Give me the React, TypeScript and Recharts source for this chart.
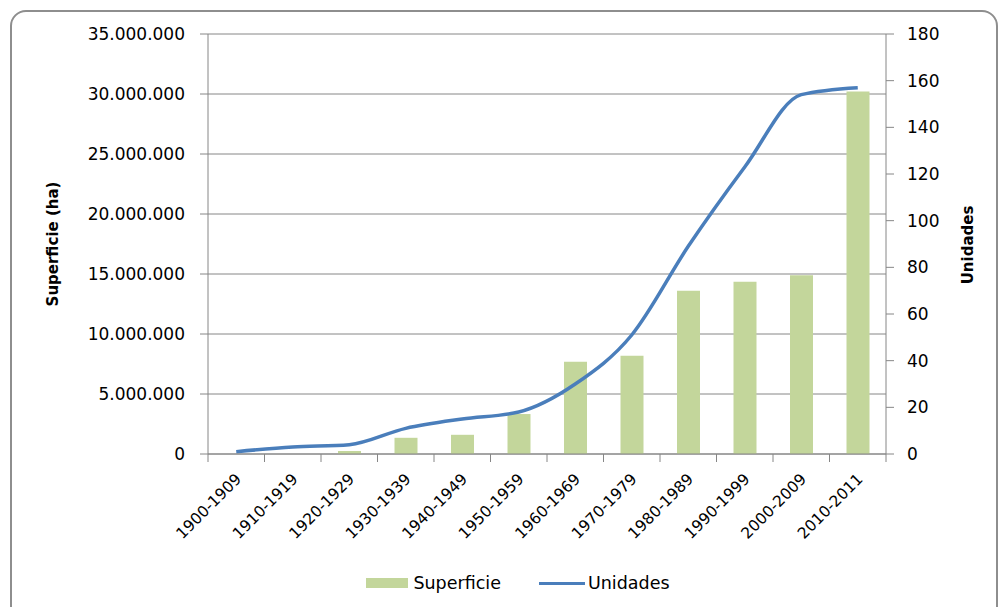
import React from "react";
import {
  Bar,
  CartesianGrid,
  ComposedChart,
  Legend,
  Line,
  XAxis,
  YAxis,
} from "recharts";

const periodos = [
  "1900-1909",
  "1910-1919",
  "1920-1929",
  "1930-1939",
  "1940-1949",
  "1950-1959",
  "1960-1969",
  "1970-1979",
  "1980-1989",
  "1990-1999",
  "2000-2009",
  "2010-2011",
];
const superficie = [
  0, 0, 250000, 1350000, 1600000, 3330000, 7690000, 8190000, 13600000,
  14360000, 14900000, 30200000,
];
const unidades = [1, 3, 4, 11, 15, 18, 30, 51, 89, 123, 154, 157];

const leftTicks = [0, 5000000, 10000000, 15000000, 20000000, 25000000, 30000000, 35000000];
const rightTicks = [0, 20, 40, 60, 80, 100, 120, 140, 160, 180];

const data = periodos.map((periodo, i) => ({
  periodo,
  superficie: superficie[i],
  unidades: unidades[i],
}));

const FONT = "'DejaVu Sans', sans-serif";
const GRAY = "#868686";
const PLOT_LEFT = 208;
const PLOT_RIGHT = 886;
const HALF_BAND = (PLOT_RIGHT - PLOT_LEFT) / periodos.length / 2;

const fmtMiles = (v: number) =>
  String(v).replace(/\B(?=(\d{3})+(?!\d))/g, ".");

function XTick(props: any) {
  const { x, y, payload, index } = props;
  const last = index === periodos.length - 1;
  return (
    <g>
      <line x1={x - HALF_BAND} x2={x - HALF_BAND} y1={y} y2={y + 8} stroke={GRAY} />
      {last && (
        <line x1={x + HALF_BAND} x2={x + HALF_BAND} y1={y} y2={y + 8} stroke={GRAY} />
      )}
      <text
        x={x + 6}
        y={y + 26}
        transform={`rotate(-45 ${x + 6} ${y + 26})`}
        textAnchor="end"
        fontFamily={FONT}
        fontSize={15.5}
        fill="#000"
      >
        {payload.value}
      </text>
    </g>
  );
}

function LegendContent() {
  return (
    <div
      style={{
        display: "flex",
        justifyContent: "center",
        alignItems: "center",
        fontFamily: FONT,
        fontSize: 17.5,
        color: "#000",
        paddingLeft: 36,
      }}
    >
      <span style={{ width: 42, height: 10, background: "#c3d69b", display: "inline-block", marginRight: 5 }} />
      <span style={{ marginRight: 38 }}>Superficie</span>
      <span style={{ width: 46, height: 3, background: "#4a7ebb", display: "inline-block", marginRight: 3 }} />
      <span>Unidades</span>
    </div>
  );
}

export default function App() {
  return (
    <div
      style={{
        position: "absolute",
        left: 0,
        top: 0,
        width: 1000,
        height: 607,
        overflow: "hidden",
        background: "#fff",
      }}
    >
      <div
        style={{
          position: "absolute",
          left: 10,
          top: 10,
          width: 984,
          height: 640,
          border: "2px solid #8e8e8e",
          borderRadius: 16,
        }}
      />
      <div style={{ position: "absolute", left: 0, top: 0 }}>
        <ComposedChart
          width={1000}
          height={607}
          data={data}
          margin={{ top: 34, right: 0, bottom: 0, left: 0 }}
          barCategoryGap={0}
        >
          <CartesianGrid vertical={false} stroke={GRAY} yAxisId="left" />
          <XAxis
            dataKey="periodo"
            height={153}
            interval={0}
            tickLine={false}
            tickSize={0}
            tickMargin={0}
            axisLine={{ stroke: GRAY }}
            tick={<XTick />}
          />
          <YAxis
            yAxisId="left"
            width={PLOT_LEFT}
            domain={[0, 35000000]}
            ticks={leftTicks}
            interval={0}
            tickFormatter={fmtMiles}
            tickSize={8}
            tickMargin={15}
            axisLine={{ stroke: GRAY }}
            tickLine={{ stroke: GRAY }}
            tick={{ fill: "#000", fontSize: 17, fontFamily: FONT }}
            label={{
              content: () => (
                <text
                  x={53}
                  y={244}
                  transform="rotate(-90 53 244)"
                  textAnchor="middle"
                  dominantBaseline="central"
                  fontFamily={FONT}
                  fontWeight="bold"
                  fontSize={15}
                  fill="#000"
                >
                  Superficie (ha)
                </text>
              ),
            }}
          />
          <YAxis
            yAxisId="right"
            orientation="right"
            width={1000 - PLOT_RIGHT}
            domain={[0, 180]}
            ticks={rightTicks}
            interval={0}
            tickSize={8}
            tickMargin={13}
            axisLine={{ stroke: GRAY }}
            tickLine={{ stroke: GRAY }}
            tick={{ fill: "#000", fontSize: 17, fontFamily: FONT }}
            label={{
              content: () => (
                <text
                  x={968}
                  y={245}
                  transform="rotate(-90 968 245)"
                  textAnchor="middle"
                  dominantBaseline="central"
                  fontFamily={FONT}
                  fontWeight="bold"
                  fontSize={15}
                  fill="#000"
                >
                  Unidades
                </text>
              ),
            }}
          />
          <Bar
            yAxisId="left"
            dataKey="superficie"
            name="Superficie"
            fill="#c3d69b"
            barSize={23}
            isAnimationActive={false}
          />
          <Line
            yAxisId="right"
            dataKey="unidades"
            name="Unidades"
            type="monotone"
            stroke="#4a7ebb"
            strokeWidth={3.5}
            dot={false}
            activeDot={false}
            isAnimationActive={false}
          />
          <Legend
            verticalAlign="middle"
            align="center"
            layout="horizontal"
            content={<LegendContent />}
            wrapperStyle={{ top: 573, left: 0, width: 1000 }}
          />
        </ComposedChart>
      </div>
    </div>
  );
}
